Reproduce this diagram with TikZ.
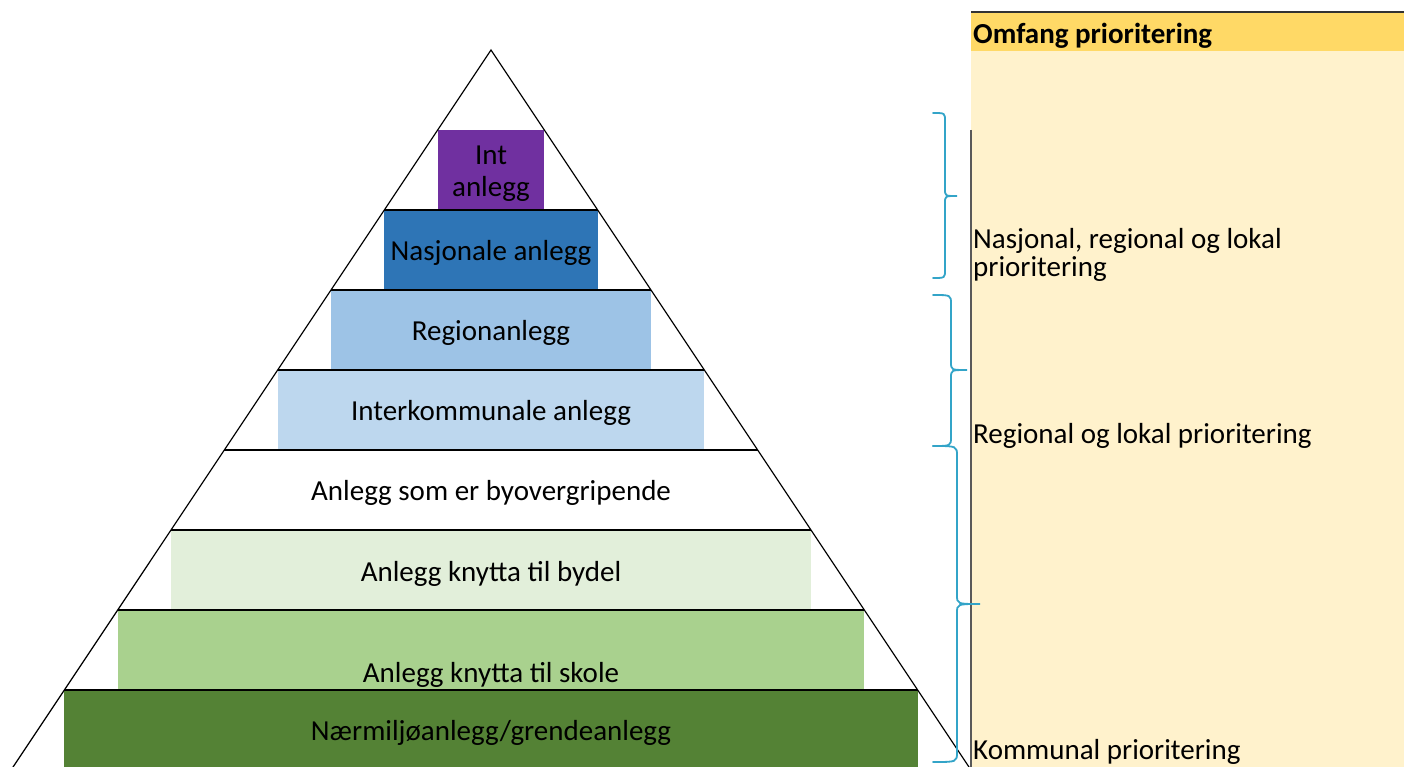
\documentclass[tikz,border=0pt]{standalone}
\usepackage{fontspec}
\setmainfont{Carlito}

\definecolor{intcol}{HTML}{7030A0}
\definecolor{nasjcol}{HTML}{2E75B6}
\definecolor{regcol}{HTML}{9DC3E6}
\definecolor{interkcol}{HTML}{BDD7EE}
\definecolor{bydelcol}{HTML}{E2EFDA}
\definecolor{skolecol}{HTML}{A9D18E}
\definecolor{naercol}{HTML}{548235}
\definecolor{headcol}{HTML}{FFD966}
\definecolor{panelcol}{HTML}{FFF2CC}
\definecolor{bracecol}{HTML}{33A4C8}

\tikzset{
  tier/.style={draw=none, inner sep=0pt, minimum height=80pt},
  tiertext/.style={anchor=base, inner sep=0pt, align=center, font=\fontsize{29}{31.7}\selectfont},
  sidetext/.style={anchor=base west, inner sep=0pt, align=left, font=\fontsize{29}{28}\selectfont},
  curly/.style={draw=bracecol, line width=1.8pt, line cap=round},
}

\begin{document}
\begin{tikzpicture}[x=1pt, y=-1pt]
  \clip (0,0) rectangle (1404,767);

  % panel on the right
  \fill[panelcol] (971,12) rectangle (1404,767);
  \fill[headcol] (971,12) rectangle (1404,50.7);
  \draw[line width=1.6pt, black!80] (971,12) -- (1404,12);
  \draw[line width=1.8pt, black!65] (971,130) -- (971,767);
  \node[sidetext, font=\fontsize{29}{28}\selectfont\bfseries] (head) at (973,43.3) {Omfang prioritering};
  \node[sidetext] (nasjreg) at (973,276) {Nasjonal, regional og lokal\\prioritering};
  \node[sidetext] (reglok) at (973,443.3) {Regional og lokal prioritering};
  \node[sidetext] (komm) at (973,759) {Kommunal prioritering};

  % tiers
  \node[tier, fill=intcol, minimum width=106.7pt] (int) at (491,170) {};
  \node[tier, fill=nasjcol, minimum width=213.3pt] (nasj) at (491,250) {};
  \node[tier, fill=regcol, minimum width=320pt] (reg) at (491,330) {};
  \node[tier, fill=interkcol, minimum width=426.7pt] (interk) at (491,410) {};
  \node[tier, fill=bydelcol, minimum width=640pt] (bydel) at (491,570) {};
  \node[tier, fill=skolecol, minimum width=746.7pt] (skole) at (491,650) {};
  \node[tier, fill=naercol, minimum width=853.3pt] (naer) at (491,730) {};

  % pyramid outline
  \draw[line width=1.2pt] (-2.3,790) -- (491,50) -- (984.3,790);
  \foreach \y in {210,290,...,690}
    \draw[line width=1.3pt] ({491-2/3*(\y-50)},\y) -- ({491+2/3*(\y-50)},\y);

  \node[tiertext] (intT) at (491,196.7) {Int\\anlegg};
  \node[tiertext] (nasjT) at (491,260.7) {Nasjonale anlegg};
  \node[tiertext] (regT) at (491,340.7) {Regionanlegg};
  \node[tiertext] (interkT) at (491,420.7) {Interkommunale anlegg};
  \node[tiertext] (byT) at (491,500.7) {Anlegg som er byovergripende};
  \node[tiertext] (bydelT) at (491,581.7) {Anlegg knytta til bydel};
  \node[tiertext] (skoleT) at (491,682) {Anlegg knytta til skole};
  \node[tiertext] (naerT) at (491,740) {Nærmiljøanlegg/grendeanlegg};

  % braces
  \draw[curly] (933,113) .. controls (945,113) .. (945,121) -- (945,189)
    .. controls (945,196) .. (957,196) .. controls (945,196) .. (945,203)
    -- (945,270) .. controls (945,278) .. (933,278);
  \draw[curly] (933,295) .. controls (951,295) .. (951,304) -- (951,362)
    .. controls (951,370) .. (967,370) .. controls (951,370) .. (951,378)
    -- (951,437) .. controls (951,446) .. (933,446);
  \draw[curly] (933,446) .. controls (957,446) .. (957,456) -- (957,595)
    .. controls (957,604) .. (980,604) .. controls (957,604) .. (957,613)
    -- (957,752) .. controls (957,762) .. (933,762);
\end{tikzpicture}
\end{document}
